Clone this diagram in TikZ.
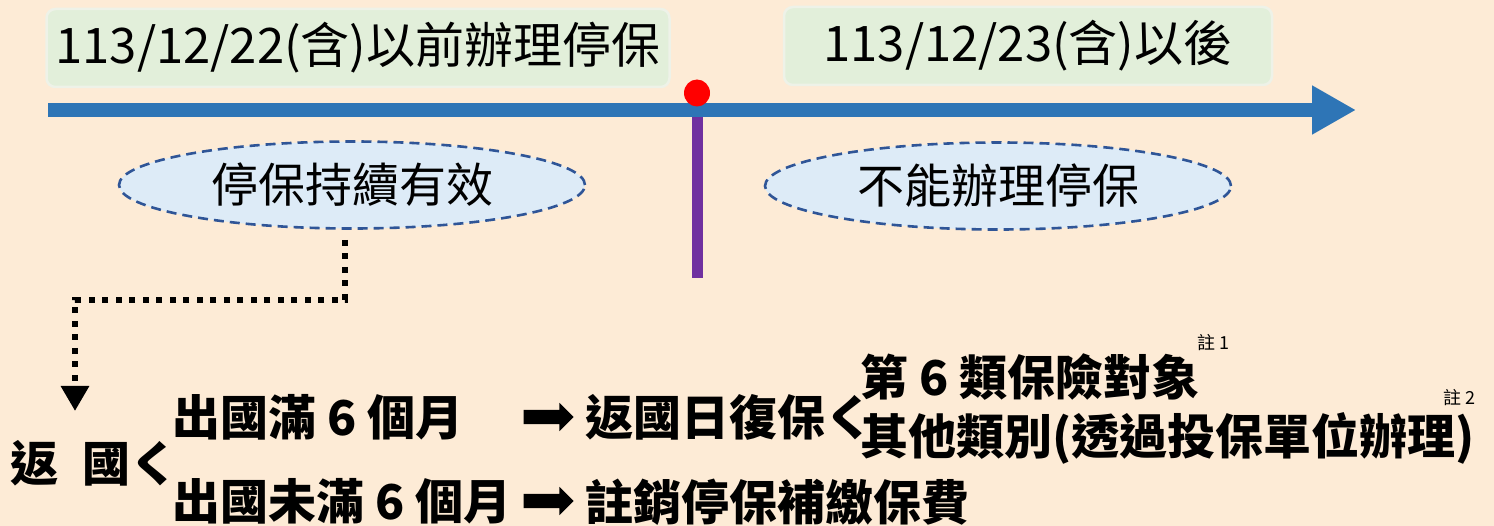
\documentclass[tikz,border=0pt]{standalone}
\usepackage{fontspec}
\setmainfont{Noto Sans CJK TC}
\usetikzlibrary{shapes.geometric,shapes.arrows,arrows.meta}

\definecolor{bgpeach}{RGB}{253,235,214}
\definecolor{boxgreen}{RGB}{226,239,218}
\definecolor{boxedge}{RGB}{238,242,232}
\definecolor{timeblue}{RGB}{46,117,182}
\definecolor{cutpurple}{RGB}{112,48,160}
\definecolor{ovalfill}{RGB}{221,235,247}
\definecolor{ovaledge}{RGB}{47,85,151}

\begin{document}
\begin{tikzpicture}[x=1pt,y=-1pt,
    datebox/.style={rounded corners=9pt, fill=boxgreen, draw=boxedge, line width=2.5pt,
      minimum height=78pt, font=\fontsize{49}{49}\selectfont},
    stateoval/.style={ellipse, draw=ovaledge, fill=ovalfill, dashed, line width=2.6pt,
      dash pattern=on 10pt off 6pt, minimum width=466pt, minimum height=87pt,
      font=\fontsize{47}{47}\selectfont},
    item/.style={anchor=west, inner sep=0pt, font=\bfseries\fontsize{48}{48}\selectfont},
    note/.style={inner sep=0pt, font=\fontsize{18}{18}\selectfont},
    goarrow/.style={single arrow, fill=black, inner sep=7pt, minimum height=50pt,
      single arrow head extend=7pt}]
  \fill[bgpeach] (0,0) rectangle (1494,526);
  \useasboundingbox (0,0) rectangle (1494,526);

  % date boxes
  \node[datebox, minimum width=623pt] (before) at (358,48) {113/12/22(含)以前辦理停保};
  \node[datebox, minimum width=488pt] (after) at (1028,46) {113/12/23(含)以後};

  % time line
  \coordinate (cuttop) at (697,104);
  \coordinate (cutbot) at (697,278);
  \draw[cutpurple, line width=11pt] (cuttop) -- (cutbot);
  \coordinate (tstart) at (48,110);
  \coordinate (tend) at (1356,110);
  \draw[timeblue, line width=14pt, -{Triangle[length=44pt,width=46pt]}] (tstart) -- (tend);
  \node[ellipse, fill=red, minimum width=26pt, minimum height=27pt, inner sep=0pt] (today) at (697,93) {};

  % states
  \node[stateoval] (valid) at (352,185) {停保持續有效};
  \node[stateoval] (noapply) at (998,186) {不能辦理停保};

  % return home
  \coordinate (drop) at (345,240);
  \coordinate (bend) at (75,300);
  \coordinate (land) at (75,411);
  \draw[line width=6pt, dash pattern=on 6pt off 7.5pt, -{Triangle[length=25pt,width=27pt]}]
    (drop) |- (bend) -- (land);

  \node[item] (home) at (10,463) {返\hspace{.5em}國く};
  \node[item] (full) at (172,417) {出國滿 6 個月};
  \node[item] (short) at (172,501) {出國未滿 6 個月};
  \node[goarrow] (arrfull) at (545,417) {};
  \node[goarrow] (arrshort) at (545,501) {};
  \node[item] (resume) at (585,417) {返國日復保く};
  \node[item] (cat6) at (860,377) {第 6 類保險對象};
  \node[item] (others) at (860,438) {其他類別(透過投保單位辦理)};
  \node[item] (cancel) at (585,502) {註銷停保補繳保費};
  \node[note] (note1) at (1213,343) {註 1};
  \node[note] (note2) at (1459,398) {註 2};
\end{tikzpicture}
\end{document}
